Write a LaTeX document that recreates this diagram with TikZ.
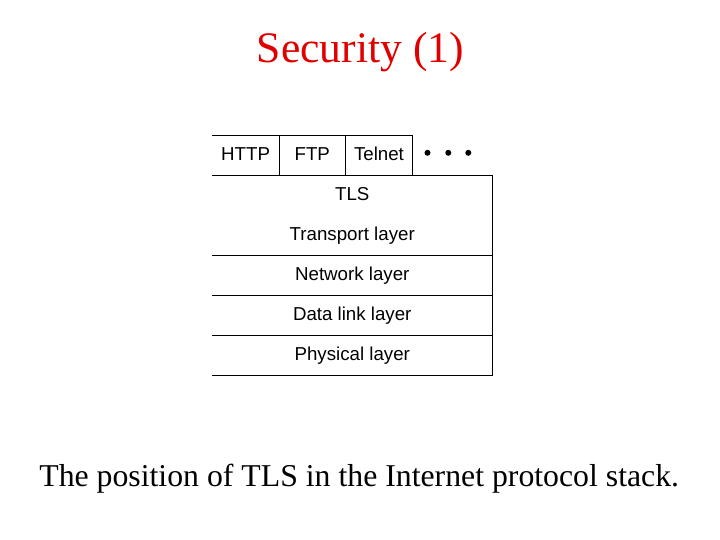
\documentclass[tikz,border=0pt]{standalone}
\usepackage{fontspec}
\setmainfont{Liberation Serif}
\setsansfont{Liberation Sans}
\usepackage{xcolor}
\usepackage{tikz}
\usetikzlibrary{positioning}
\definecolor{titlered}{RGB}{225,0,0}

\tikzset{
  cell/.style={minimum height=1cm, inner sep=0pt, outer sep=0pt,
    text height=0.72em, text depth=0pt,
    font=\sffamily\fontsize{13.3}{16}\selectfont},
  proto/.style={cell, minimum width=1.667cm},
  layer/.style={cell, minimum width=7cm},
  frame/.style={line width=0.6pt}
}

\begin{document}
\begin{tikzpicture}
  \useasboundingbox (0,0) rectangle (18,-13.5);
  \node[text=titlered, font=\fontsize{31}{37}\selectfont] (title) at (9.01,-1.3) {Security (1)};
  \node[proto] (http) at (6.14,-3.89) {HTTP};
  \node[proto, right=0pt of http] (ftp) {FTP};
  \node[proto, right=0pt of ftp] (telnet) {Telnet};
  \node[cell, minimum width=2cm, right=0pt of telnet] (more) {};
  \foreach \dx in {-0.62,-0.1,0.4}
    \fill[shift={(more.center)}] (\dx,0.07) circle (0.075);
  \node[layer, anchor=north west] (tls) at (http.south west) {TLS};
  \node[layer, below=0pt of tls] (transport) {Transport layer};
  \node[layer, below=0pt of transport] (network) {Network layer};
  \node[layer, below=0pt of network] (datalink) {Data link layer};
  \node[layer, below=0pt of datalink] (physical) {Physical layer};
  \draw[frame] (http.north west) -- (telnet.north east) -- (telnet.south east);
  \draw[frame] (http.north east) -- (http.south east);
  \draw[frame] (ftp.north east) -- (ftp.south east);
  \draw[frame] (tls.north west) -- (tls.north east) -- (physical.south east) -- (physical.south west);
  \draw[frame] (transport.south west) -- (transport.south east);
  \draw[frame] (network.south west) -- (network.south east);
  \draw[frame] (datalink.south west) -- (datalink.south east);
  \node[font=\fontsize{22.6}{27}\selectfont] (caption) at (8.98,-11.97) {The position of TLS in the Internet protocol stack.};
\end{tikzpicture}
\end{document}
